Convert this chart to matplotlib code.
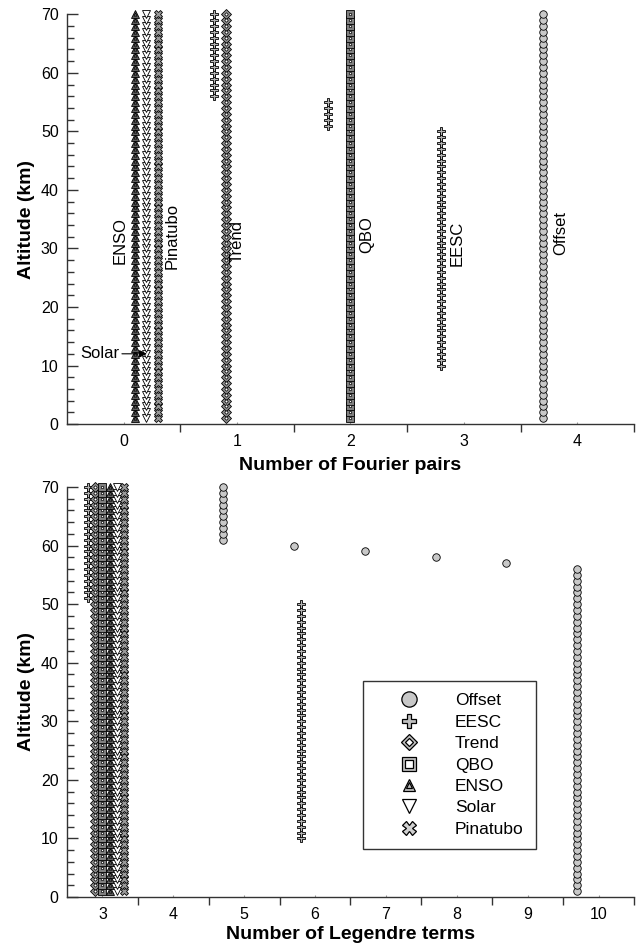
import numpy as np
import matplotlib
matplotlib.use('Agg')
import matplotlib.pyplot as plt
from matplotlib.lines import Line2D
from matplotlib.ticker import MultipleLocator, FixedLocator, NullFormatter

plt.rcParams['font.family'] = ['Liberation Sans', 'DejaVu Sans']

# data: (first km, last km, count) segments per regressor
names = ['Offset', 'EESC', 'Trend', 'QBO', 'ENSO', 'Solar', 'Pinatubo']

fourier_offset = [(1, 70, 4)]
fourier_eesc = [(56, 70, 1), (51, 55, 2), (10, 50, 3)]
fourier_trend = [(1, 70, 1)]
fourier_qbo = [(1, 70, 2)]
fourier_enso = [(1, 70, 0)]
fourier_solar = [(1, 70, 0)]
fourier_pinatubo = [(1, 70, 0)]

legendre_offset = [(61, 70, 5), (60, 60, 6), (59, 59, 7), (58, 58, 8), (57, 57, 9), (1, 56, 10)]
legendre_eesc = [(51, 70, 3), (10, 50, 6)]
legendre_trend = [(1, 70, 3)]
legendre_qbo = [(1, 70, 3)]
legendre_enso = [(1, 70, 3)]
legendre_solar = [(1, 70, 3)]
legendre_pinatubo = [(1, 70, 3)]

fourier = [fourier_offset, fourier_eesc, fourier_trend, fourier_qbo,
           fourier_enso, fourier_solar, fourier_pinatubo]
legendre = [legendre_offset, legendre_eesc, legendre_trend, legendre_qbo,
            legendre_enso, legendre_solar, legendre_pinatubo]

# horizontal shift of each series so they don't overlap
shift = [-0.3, -0.2, -0.1, 0.0, 0.1, 0.2, 0.3]

# marker, face, size, inner marker, inner face, inner size
styles = {
    'Offset':   ('o', '#c8c8c8', 5.4, None, None, 0),
    'EESC':     ('P', '#b4b4b4', 5.5, None, None, 0),
    'Trend':    ('D', '#909090', 4.6, 'D', 'white', 1.8),
    'QBO':      ('s', '#808080', 5.2, 's', 'white', 2.0),
    'ENSO':     ('^', '#606060', 5.4, '^', '#606060', 2.4),
    'Solar':    ('v', 'white', 5.6, None, None, 0),
    'Pinatubo': ('X', '#999999', 5.4, None, None, 0),
}


def expand(segs):
    alt = []
    n = []
    for a0, a1, c in segs:
        for a in range(a0, a1 + 1):
            alt.append(a)
            n.append(c)
    return np.array(n, float), np.array(alt, float)


def draw(ax, data):
    for name, segs, dx in zip(names, data, shift):
        n, alt = expand(segs)
        m, fc, ms, im, ifc, ims = styles[name]
        ax.plot(n + dx, alt, ls='none', marker=m, mfc=fc, mec='black',
                mew=0.6, ms=ms, clip_on=False)
        if im:
            ax.plot(n + dx, alt, ls='none', marker=im, mfc=ifc, mec='black',
                    mew=0.5, ms=ims, clip_on=False)


def style_axes(ax, xmin, xmax):
    ax.set_xlim(xmin, xmax)
    ax.set_ylim(0, 70)
    for s in ['top', 'right']:
        ax.spines[s].set_visible(False)
    for s in ['left', 'bottom']:
        ax.spines[s].set_color('#333333')
        ax.spines[s].set_linewidth(1.0)
    ax.yaxis.set_major_locator(MultipleLocator(10))
    ax.yaxis.set_minor_locator(MultipleLocator(2))
    ax.tick_params(axis='y', which='major', direction='in', length=8,
                   width=1, color='#333333', labelsize=11.5, pad=6)
    ax.tick_params(axis='y', which='minor', direction='in', length=5,
                   width=1, color='#333333')
    halves = np.arange(xmin + 1, xmax + 0.01, 1.0)
    ints = np.arange(xmin + 0.5, xmax, 1.0)
    ax.xaxis.set_major_locator(FixedLocator(halves))
    ax.xaxis.set_major_formatter(NullFormatter())
    ax.xaxis.set_minor_locator(FixedLocator(ints))
    ax.xaxis.set_minor_formatter(plt.FuncFormatter(lambda v, p: '%d' % round(v)))
    ax.tick_params(axis='x', which='major', direction='out', length=6,
                   width=1, color='#333333')
    ax.tick_params(axis='x', which='minor', direction='in', length=1.5,
                   width=0.8, color='#999999', labelsize=11.5, pad=7)
    ax.set_ylabel('Altitude (km)', fontsize=14, fontweight='bold', labelpad=4)


fig = plt.figure(figsize=(6.38, 9.48), dpi=100)
ax1 = fig.add_axes([0.105, 0.5527, 0.8887, 0.4322])
ax2 = fig.add_axes([0.105, 0.0538, 0.8887, 0.4325])

draw(ax1, fourier)
style_axes(ax1, -0.5, 4.5)
ax1.set_xlabel('Number of Fourier pairs', fontsize=14, fontweight='bold', labelpad=6)

# labels on top panel
lab_x = [3.85, 2.94, 1.0, 2.14, -0.03, None, 0.43]
lab_y = [32.7, 30.8, 31.2, 32.3, 31.3, None, 32.1]
for name, x, y in zip(names, lab_x, lab_y):
    if x is None:
        continue
    ax1.text(x, y, name, rotation=90, ha='center', va='center', fontsize=12)
ax1.annotate('Solar', xy=(0.205, 12), xytext=(-0.04, 12), ha='right', va='center',
             fontsize=12,
             arrowprops=dict(arrowstyle='-|>', color='black', lw=0.8,
                             shrinkA=0, shrinkB=0, mutation_scale=11))

draw(ax2, legendre)
style_axes(ax2, 2.5, 10.5)
ax2.set_xlabel('Number of Legendre terms', fontsize=14, fontweight='bold', labelpad=3)

# legend with bigger symbols
handles = []
leg_size = {'Offset': 11, 'EESC': 9.5, 'Trend': 8.5, 'QBO': 10.5, 'ENSO': 8.5,
            'Solar': 9.5, 'Pinatubo': 10}
leg_face = {'Offset': '#c8c8c8', 'EESC': '#c0c0c0', 'Trend': '#c0c0c0',
            'QBO': '#c0c0c0', 'ENSO': '#c0c0c0', 'Solar': 'white',
            'Pinatubo': '#d0d0d0'}
for name in names:
    m, fc, ms, im, ifc, ims = styles[name]
    outer = Line2D([], [], ls='none', marker=m, mfc=leg_face[name], mec='black',
                   mew=0.9, ms=leg_size[name])
    if im:
        inner = Line2D([], [], ls='none', marker=im,
                       mfc='white' if ifc == 'white' else leg_face[name],
                       mec='black', mew=0.9, ms=leg_size[name] * 0.5)
        handles.append((outer, inner))
    else:
        handles.append(outer)
leg = ax2.legend(handles, names, loc='lower left', bbox_to_anchor=(0.522, 0.117),
                 fontsize=12.5, frameon=True, fancybox=False, borderpad=0.7,
                 handlelength=3.9, handletextpad=0.7, labelspacing=0.36,
                 borderaxespad=0)
leg.get_frame().set_edgecolor('black')
leg.get_frame().set_linewidth(1.0)

fig.savefig('out.png', dpi=100)
